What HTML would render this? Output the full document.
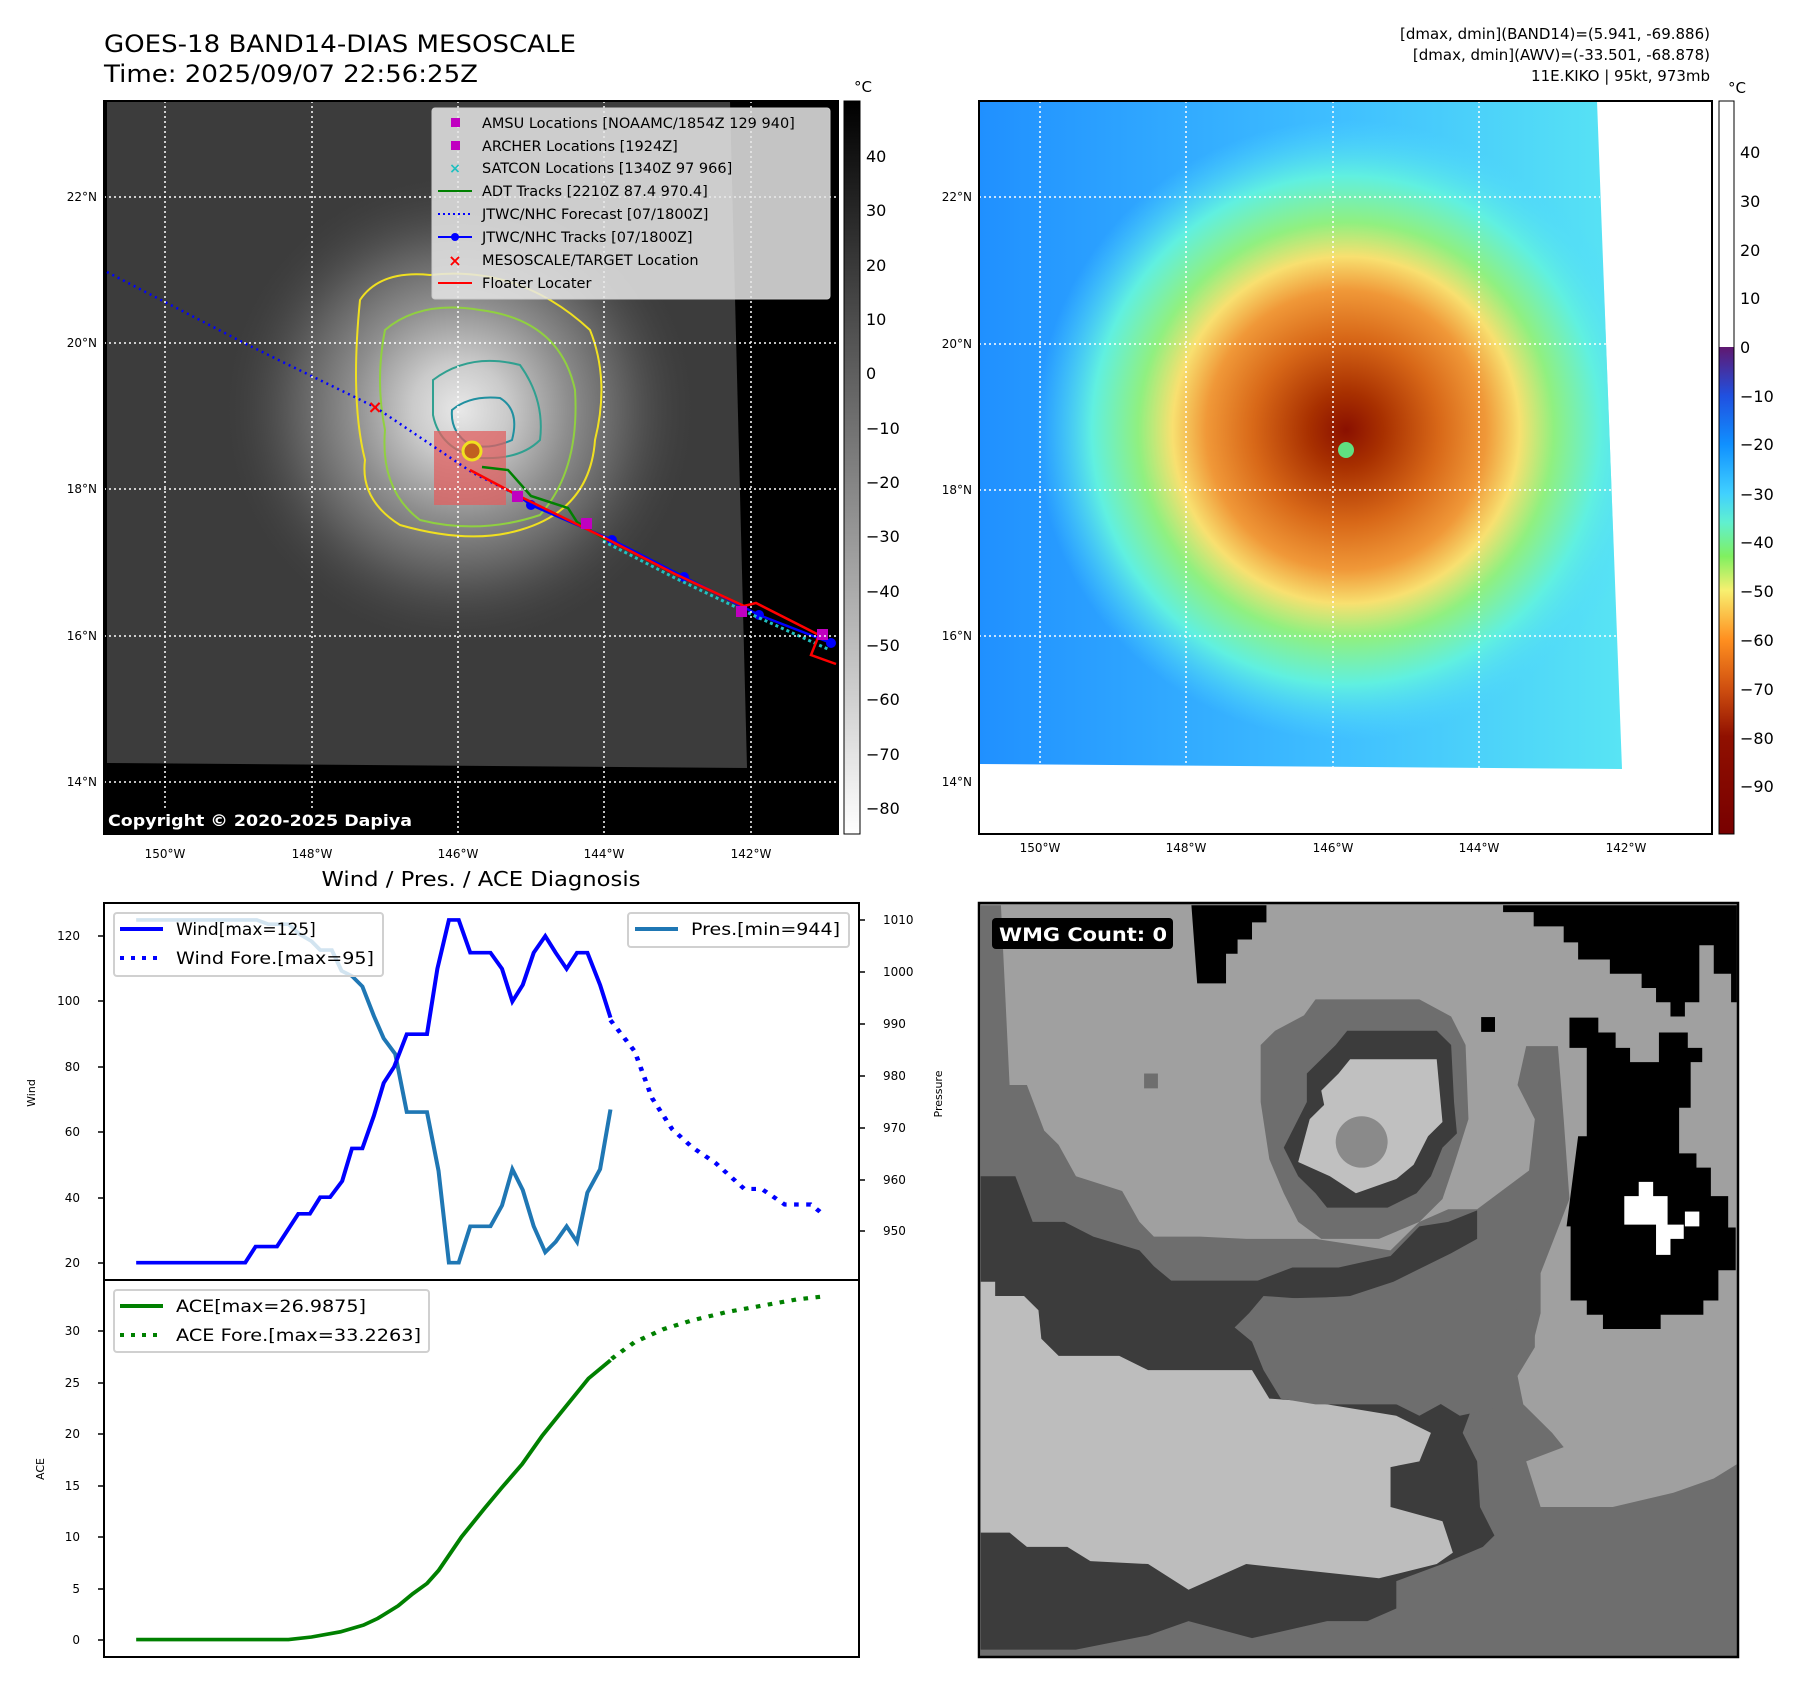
<!DOCTYPE html>
<html><head><meta charset="utf-8"><style>
html,body{margin:0;padding:0;background:#fff;}
svg{display:block;font-family:"DejaVu Sans","Liberation Sans",sans-serif;}
</style></head><body>
<svg width="1797" height="1690" viewBox="0 0 1797 1690" xmlns="http://www.w3.org/2000/svg">
<defs>
<radialGradient id="lstorm" cx="460" cy="410" r="240" gradientUnits="userSpaceOnUse">
<stop offset="0" stop-color="#e8e8e8"/><stop offset="0.2" stop-color="#cacaca"/><stop offset="0.45" stop-color="#8e8e8e"/><stop offset="0.72" stop-color="#585858"/><stop offset="1" stop-color="#3c3c3c" stop-opacity="0"/>
</radialGradient>
<radialGradient id="rstorm" cx="1346" cy="430" r="310" gradientUnits="userSpaceOnUse">
<stop offset="0" stop-color="#8a1000"/><stop offset="0.12" stop-color="#a83000"/><stop offset="0.3" stop-color="#d86818"/><stop offset="0.45" stop-color="#f09838"/><stop offset="0.56" stop-color="#f8e070"/><stop offset="0.67" stop-color="#90f080"/><stop offset="0.82" stop-color="#60f0e0"/><stop offset="1" stop-color="#50d8ff" stop-opacity="0"/>
</radialGradient>
<linearGradient id="rbase" x1="0" y1="0" x2="1" y2="0">
<stop offset="0" stop-color="#2090ff"/><stop offset="0.5" stop-color="#40c0ff"/><stop offset="1" stop-color="#60f0f0"/>
</linearGradient>
<linearGradient id="lcb" x1="0" y1="0" x2="0" y2="1"><stop offset="0" stop-color="#000"/><stop offset="1" stop-color="#fff"/></linearGradient>
<linearGradient id="rcb" gradientUnits="userSpaceOnUse" x1="0" y1="347" x2="0" y2="834">
<stop offset="0" stop-color="#601870"/><stop offset="0.1" stop-color="#2050e0"/><stop offset="0.2" stop-color="#1090ff"/><stop offset="0.3" stop-color="#40d0ff"/><stop offset="0.36" stop-color="#60f0d0"/><stop offset="0.43" stop-color="#80f060"/><stop offset="0.5" stop-color="#f8f070"/><stop offset="0.6" stop-color="#ff9020"/><stop offset="0.7" stop-color="#d05010"/><stop offset="0.8" stop-color="#901000"/><stop offset="1" stop-color="#780000"/>
</linearGradient>
<clipPath id="lclip"><polygon points="107,101 730,101 747,768 107,763"/></clipPath>
<clipPath id="rclip"><polygon points="979,101 1597,101 1622,769 979,764"/></clipPath>
</defs>

<text x="104" y="52" font-size="24" textLength="472" lengthAdjust="spacingAndGlyphs">GOES-18 BAND14-DIAS MESOSCALE</text>
<text x="104" y="82" font-size="24" textLength="374" lengthAdjust="spacingAndGlyphs">Time: 2025/09/07 22:56:25Z</text>
<g font-size="15" text-anchor="end">
<text x="1710" y="39">[dmax, dmin](BAND14)=(5.941, -69.886)</text>
<text x="1710" y="60">[dmax, dmin](AWV)=(-33.501, -68.878)</text>
<text x="1710" y="81">11E.KIKO | 95kt, 973mb</text>
</g>

<rect x="104" y="101" width="734" height="733" fill="#000"/>
<g clip-path="url(#lclip)">
<rect x="104" y="101" width="734" height="733" fill="#3c3c3c"/>
<rect x="104" y="101" width="734" height="733" fill="url(#lstorm)"/>
</g>
<g fill="none" stroke-width="2">
<path d="M360,300 Q380,270 430,275 Q520,265 590,330 Q610,380 595,440 Q590,510 520,530 Q470,545 400,525 Q360,500 365,460 Q350,400 360,300Z" stroke="#f0e020"/>
<path d="M385,330 Q420,300 480,310 Q560,320 575,390 Q580,470 540,515 Q480,535 420,520 Q380,490 385,430 Q375,380 385,330Z" stroke="#90d040"/>
<path d="M433,380 Q470,352 520,365 Q545,400 540,440 Q520,460 480,458 Q440,450 433,415Z" stroke="#30a090"/>
<path d="M452,410 Q470,395 500,398 Q520,410 512,440 Q490,450 470,445 Q450,432 452,410Z" stroke="#2090a0"/>
</g>
<rect x="434" y="431" width="72" height="74" fill="#e06060" fill-opacity="0.75"/>
<circle cx="472" cy="451" r="9" fill="#c06020" stroke="#f0e020" stroke-width="3"/>
<polyline points="107,272 248,345 375,407 473,473 519,496" fill="none" stroke="#0000ff" stroke-width="2.5" stroke-dasharray="2,4"/>
<polyline points="482,467 508,470 531,496 568,508 577,522 606,540" fill="none" stroke="#008000" stroke-width="2.5"/>
<polyline points="519,496 531,505 612,540 684,577 759,615 831,643" fill="none" stroke="#0000ff" stroke-width="2.5"/>
<g fill="#0000ff"><circle cx="531" cy="505" r="5"/><circle cx="612" cy="540" r="5"/><circle cx="684" cy="577" r="5"/><circle cx="759" cy="615" r="5"/><circle cx="831" cy="643" r="5"/></g>
<polyline points="603,541 675,578 744,611 830,650" fill="none" stroke="#20c0c0" stroke-width="3" stroke-dasharray="3,3"/>
<polyline points="470,470 519,496 603,537 675,574 744,606 756,603 819,635 811,655 836,664" fill="none" stroke="#ff0000" stroke-width="2.5"/>
<g fill="#c000c0"><rect x="512" y="491" width="11" height="11"/><rect x="581" y="518" width="11" height="11"/><rect x="736" y="606" width="11" height="11"/><rect x="817" y="629" width="11" height="11"/></g>
<text x="375" y="413" font-size="18" fill="#ff0000" text-anchor="middle" font-weight="bold">×</text>
<g stroke="#fff" stroke-width="1.5" stroke-dasharray="2,3">
<line x1="165" y1="101" x2="165" y2="834"/><line x1="312" y1="101" x2="312" y2="834"/><line x1="458" y1="101" x2="458" y2="834"/><line x1="604" y1="101" x2="604" y2="834"/><line x1="751" y1="101" x2="751" y2="834"/>
<line x1="104" y1="197" x2="838" y2="197"/><line x1="104" y1="343" x2="838" y2="343"/><line x1="104" y1="489" x2="838" y2="489"/><line x1="104" y1="636" x2="838" y2="636"/><line x1="104" y1="782" x2="838" y2="782"/>
</g>
<rect x="432" y="108" width="398" height="191" rx="3" fill="#e6e6e6" fill-opacity="0.85" stroke="#ccc"/>
<g font-size="14.5">
<rect x="451" y="118" width="9" height="9" fill="#c000c0"/><text x="482" y="128">AMSU Locations [NOAAMC/1854Z 129 940]</text>
<rect x="451" y="141" width="9" height="9" fill="#c000c0"/><text x="482" y="151">ARCHER Locations [1924Z]</text>
<text x="455" y="173" fill="#20c0c0" text-anchor="middle" font-size="14" font-weight="bold">×</text><text x="482" y="173">SATCON Locations [1340Z 97 966]</text>
<line x1="438" y1="191" x2="472" y2="191" stroke="#008000" stroke-width="2"/><text x="482" y="196">ADT Tracks [2210Z 87.4 970.4]</text>
<line x1="438" y1="214" x2="472" y2="214" stroke="#0000ff" stroke-width="2" stroke-dasharray="2,3"/><text x="482" y="219">JTWC/NHC Forecast [07/1800Z]</text>
<line x1="438" y1="237" x2="472" y2="237" stroke="#0000ff" stroke-width="2"/><circle cx="455" cy="237" r="4" fill="#0000ff"/><text x="482" y="242">JTWC/NHC Tracks [07/1800Z]</text>
<text x="455" y="266" fill="#ff0000" text-anchor="middle" font-size="16" font-weight="bold">×</text><text x="482" y="265">MESOSCALE/TARGET Location</text>
<line x1="438" y1="283" x2="472" y2="283" stroke="#ff0000" stroke-width="2"/><text x="482" y="288">Floater Locater</text>
</g>
<rect x="103" y="808" width="312" height="26" rx="3" fill="#000"/>
<text x="108" y="826" font-size="16" font-weight="bold" fill="#fff" textLength="304" lengthAdjust="spacingAndGlyphs">Copyright © 2020-2025 Dapiya</text>
<rect x="104" y="101" width="734" height="733" fill="none" stroke="#000" stroke-width="2"/>
<g font-size="12" text-anchor="end">
<text x="97" y="201">22°N</text><text x="97" y="347">20°N</text><text x="97" y="493">18°N</text><text x="97" y="640">16°N</text><text x="97" y="786">14°N</text>
</g>
<g font-size="12" text-anchor="middle">
<text x="165" y="858">150°W</text><text x="312" y="858">148°W</text><text x="458" y="858">146°W</text><text x="604" y="858">144°W</text><text x="751" y="858">142°W</text>
</g>
<rect x="844" y="101" width="16" height="733" fill="url(#lcb)" stroke="#000" stroke-width="1"/>
<text x="854" y="92" font-size="15">°C</text>
<g font-size="16">
<text x="866" y="162">40</text><text x="866" y="216">30</text><text x="866" y="271">20</text><text x="866" y="325">10</text><text x="866" y="379">0</text>
<text x="866" y="434">−10</text><text x="866" y="488">−20</text><text x="866" y="542">−30</text><text x="866" y="597">−40</text><text x="866" y="651">−50</text><text x="866" y="705">−60</text><text x="866" y="760">−70</text><text x="866" y="814">−80</text>
</g>

<rect x="979" y="101" width="733" height="733" fill="#fff"/>
<g clip-path="url(#rclip)">
<rect x="979" y="101" width="733" height="733" fill="url(#rbase)"/>
<rect x="979" y="101" width="733" height="733" fill="url(#rstorm)"/>
<circle cx="1346" cy="450" r="8" fill="#60e080"/>
</g>
<g stroke="#fff" stroke-width="1.5" stroke-dasharray="2,3">
<line x1="1040" y1="101" x2="1040" y2="764"/><line x1="1186" y1="101" x2="1186" y2="766"/><line x1="1333" y1="101" x2="1333" y2="767"/><line x1="1479" y1="101" x2="1479" y2="768"/>
<line x1="979" y1="197" x2="1600" y2="197"/><line x1="979" y1="344" x2="1606" y2="344"/><line x1="979" y1="490" x2="1611" y2="490"/><line x1="979" y1="636" x2="1617" y2="636"/>
</g>
<rect x="979" y="101" width="733" height="733" fill="none" stroke="#000" stroke-width="2"/>
<g font-size="12" text-anchor="end">
<text x="972" y="201">22°N</text><text x="972" y="348">20°N</text><text x="972" y="494">18°N</text><text x="972" y="640">16°N</text><text x="972" y="786">14°N</text>
</g>
<g font-size="12" text-anchor="middle">
<text x="1040" y="852">150°W</text><text x="1186" y="852">148°W</text><text x="1333" y="852">146°W</text><text x="1479" y="852">144°W</text><text x="1626" y="852">142°W</text>
</g>
<rect x="1719" y="101" width="15" height="246" fill="#fff"/>
<rect x="1719" y="347" width="15" height="487" fill="url(#rcb)"/>
<rect x="1719" y="101" width="15" height="733" fill="none" stroke="#000" stroke-width="1"/>
<text x="1728" y="93" font-size="15">°C</text>
<g font-size="16">
<text x="1740" y="158">40</text><text x="1740" y="207">30</text><text x="1740" y="256">20</text><text x="1740" y="304">10</text><text x="1740" y="353">0</text>
<text x="1740" y="402">−10</text><text x="1740" y="450">−20</text><text x="1740" y="500">−30</text><text x="1740" y="548">−40</text><text x="1740" y="597">−50</text><text x="1740" y="646">−60</text><text x="1740" y="695">−70</text><text x="1740" y="744">−80</text><text x="1740" y="792">−90</text>
</g>

<text x="481" y="886" font-size="20" text-anchor="middle" textLength="319" lengthAdjust="spacingAndGlyphs">Wind / Pres. / ACE Diagnosis</text>
<g transform="translate(0,880) scale(0.5770,0.5192)">
<polyline fill="none" stroke="#1f77b4" stroke-width="7" points="236,77 445,77 465,85 500,85 520,105 540,118 555,135 575,135 592,175 610,185 628,205 648,262 665,305 685,335 705,447 740,447 760,560 778,737 795,737 815,667 850,667 870,627 888,557 906,597 925,667 945,717 963,697 982,667 1000,697 1018,602 1040,557 1058,442"/>
<polyline fill="none" stroke="#0000ff" stroke-width="7" points="236,737 425,737 443,706 480,706 517,643 537,643 555,611 572,611 593,580 610,517 628,517 648,454 665,391 683,360 705,297 740,297 758,171 778,77 795,77 815,140 850,140 870,171 888,234 906,202 925,140 945,108 963,140 982,171 1000,140 1018,140 1040,202 1058,265"/>
<polyline fill="none" stroke="#0000ff" stroke-width="8" stroke-dasharray="8,13" points="1058,270 1100,330 1130,420 1165,480 1200,515 1240,545 1290,595 1320,595 1360,625 1405,625 1428,645"/>
<polyline fill="none" stroke="#008000" stroke-width="7" points="236,1463 500,1463 540,1458 590,1448 630,1435 655,1422 690,1398 715,1375 740,1355 760,1330 800,1265 840,1210 870,1170 905,1125 940,1070 980,1015 1020,960 1058,925"/>
<polyline fill="none" stroke="#008000" stroke-width="8" stroke-dasharray="8,13" points="1060,922 1100,890 1150,865 1200,848 1260,832 1320,820 1380,808 1428,802"/>
</g>
<rect x="104" y="903" width="755" height="377" fill="none" stroke="#000" stroke-width="2"/>
<rect x="104" y="1280" width="755" height="377" fill="none" stroke="#000" stroke-width="2"/>
<g stroke="#000" stroke-width="1.5">
<line x1="98" y1="936" x2="104" y2="936"/><line x1="98" y1="1001" x2="104" y2="1001"/><line x1="98" y1="1067" x2="104" y2="1067"/><line x1="98" y1="1132" x2="104" y2="1132"/><line x1="98" y1="1198" x2="104" y2="1198"/><line x1="98" y1="1263" x2="104" y2="1263"/>
<line x1="859" y1="920" x2="865" y2="920"/><line x1="859" y1="972" x2="865" y2="972"/><line x1="859" y1="1024" x2="865" y2="1024"/><line x1="859" y1="1076" x2="865" y2="1076"/><line x1="859" y1="1128" x2="865" y2="1128"/><line x1="859" y1="1180" x2="865" y2="1180"/><line x1="859" y1="1231" x2="865" y2="1231"/>
<line x1="98" y1="1331" x2="104" y2="1331"/><line x1="98" y1="1383" x2="104" y2="1383"/><line x1="98" y1="1434" x2="104" y2="1434"/><line x1="98" y1="1486" x2="104" y2="1486"/><line x1="98" y1="1537" x2="104" y2="1537"/><line x1="98" y1="1589" x2="104" y2="1589"/><line x1="98" y1="1640" x2="104" y2="1640"/>
</g>
<g font-size="12" text-anchor="end">
<text x="80" y="940">120</text><text x="80" y="1005">100</text><text x="80" y="1071">80</text><text x="80" y="1136">60</text><text x="80" y="1202">40</text><text x="80" y="1267">20</text>
<text x="80" y="1335">30</text><text x="80" y="1387">25</text><text x="80" y="1438">20</text><text x="80" y="1490">15</text><text x="80" y="1541">10</text><text x="80" y="1593">5</text><text x="80" y="1644">0</text>
</g>
<g font-size="12">
<text x="883" y="924">1010</text><text x="883" y="976">1000</text><text x="883" y="1028">990</text><text x="883" y="1080">980</text><text x="883" y="1132">970</text><text x="883" y="1184">960</text><text x="883" y="1235">950</text>
</g>
<text transform="translate(35,1093) rotate(-90)" font-size="11" text-anchor="middle">Wind</text>
<text transform="translate(942,1094) rotate(-90)" font-size="11" text-anchor="middle">Pressure</text>
<text transform="translate(44,1469) rotate(-90)" font-size="11" text-anchor="middle">ACE</text>
<rect x="114" y="913" width="269" height="63" rx="3" fill="#fff" fill-opacity="0.8" stroke="#d0d0d0" stroke-width="2"/>
<line x1="120" y1="929" x2="163" y2="929" stroke="#0000ff" stroke-width="4"/>
<line x1="120" y1="958" x2="163" y2="958" stroke="#0000ff" stroke-width="4" stroke-dasharray="4,7"/>
<text x="176" y="935" font-size="17">Wind[max=125]</text>
<text x="176" y="964" font-size="17" textLength="198" lengthAdjust="spacingAndGlyphs">Wind Fore.[max=95]</text>
<rect x="628" y="913" width="221" height="34" rx="3" fill="#fff" fill-opacity="0.8" stroke="#d0d0d0" stroke-width="2"/>
<line x1="635" y1="929" x2="678" y2="929" stroke="#1f77b4" stroke-width="4"/>
<text x="691" y="935" font-size="17" textLength="149" lengthAdjust="spacingAndGlyphs">Pres.[min=944]</text>
<rect x="114" y="1290" width="315" height="62" rx="3" fill="#fff" fill-opacity="0.8" stroke="#d0d0d0" stroke-width="2"/>
<line x1="120" y1="1306" x2="163" y2="1306" stroke="#008000" stroke-width="4"/>
<line x1="120" y1="1335" x2="163" y2="1335" stroke="#008000" stroke-width="4" stroke-dasharray="4,7"/>
<text x="176" y="1312" font-size="17" textLength="190" lengthAdjust="spacingAndGlyphs">ACE[max=26.9875]</text>
<text x="176" y="1341" font-size="17" textLength="245" lengthAdjust="spacingAndGlyphs">ACE Fore.[max=33.2263]</text>

<svg x="979" y="903" width="759" height="754" viewBox="137 181 1315 1322" preserveAspectRatio="none">
<rect x="137" y="181" width="1315" height="1322" fill="#a0a0a0"/>
<polygon fill="#6e6e6e" points="140,185 175,185 190,500 220,500 250,580 275,605 305,660 385,686 415,740 440,766 520,766 600,770 720,770 850,790 900,740 950,718 1000,718 1090,650 1100,560 1070,500 1085,432 1140,432 1150,560 1160,700 1110,830 1110,900 1095,960 1070,1010 1080,1060 1130,1110 1150,1135 1085,1160 1110,1240 1235,1240 1340,1215 1410,1190 1450,1165 1450,1503 140,1503"/>
<polygon fill="#3c3c3c" points="140,660 200,660 230,740 285,740 335,766 415,790 440,818 470,843 550,843 620,843 680,820 760,820 850,800 900,748 950,740 1000,720 1000,770 955,795 855,845 780,870 700,875 630,870 605,900 580,925 610,950 630,1000 660,1050 710,1055 850,1055 900,1080 945,1055 995,1055 975,1110 1000,1160 1005,1240 1030,1290 1010,1310 940,1340 860,1370 860,1418 810,1440 740,1440 610,1470 500,1440 430,1465 305,1490 140,1490"/>
<polygon fill="#bdbdbd" points="140,845 165,845 165,870 215,870 240,895 245,945 275,975 380,975 430,1000 610,1000 640,1050 710,1055 860,1080 920,1110 900,1160 850,1170 850,1240 940,1265 958,1320 930,1340 830,1365 600,1340 500,1385 430,1340 330,1335 290,1310 220,1310 190,1285 140,1285"/>
<polygon fill="#6e6e6e" points="580,925 640,875 830,870 1000,880 1100,900 1100,960 1070,1010 1060,1060 970,1080 930,1055 870,1060 720,1060 660,1050 610,950"/>
<polygon fill="#6e6e6e" points="625,430 650,405 700,378 720,350 900,350 955,380 980,430 985,560 960,640 940,700 900,740 830,770 730,770 690,740 665,690 640,630 625,530"/>
<polygon fill="#3c3c3c" points="705,480 730,455 755,430 775,405 930,405 955,430 960,530 965,585 940,610 920,660 895,690 845,715 740,715 720,690 690,660 665,610 690,560 705,530"/>
<polygon fill="#c0c0c0" points="730,510 760,480 780,455 930,455 935,510 940,565 915,590 890,640 860,665 790,690 745,660 690,635 710,560 735,535"/>
<ellipse cx="800" cy="600" rx="45" ry="45" fill="#8a8a8a"/>
<polygon fill="#000" points="505,185 635,185 635,215 610,215 610,245 585,245 585,270 565,270 565,322 515,322"/>
<polygon fill="#000" points="1045,185 1450,185 1450,355 1440,355 1440,305 1410,305 1410,255 1385,255 1385,355 1360,355 1360,380 1335,380 1335,355 1310,355 1310,330 1285,330 1285,305 1230,305 1230,280 1175,280 1175,250 1150,250 1150,222 1098,222 1098,197 1045,197"/>
<polygon fill="#000" points="1160,382 1210,382 1210,408 1240,408 1240,435 1265,435 1265,460 1315,460 1315,408 1365,408 1365,435 1390,435 1390,460 1370,460 1370,540 1350,540 1350,620 1380,620 1380,645 1405,645 1405,695 1435,695 1435,750 1448,750 1448,825 1418,825 1418,878 1392,878 1392,903 1318,903 1318,928 1218,928 1218,903 1190,903 1190,878 1162,878 1162,748 1155,748 1175,590 1190,590 1190,435 1160,435"/>
<polygon fill="#fff" points="1280,670 1305,670 1305,695 1330,695 1330,745 1358,745 1358,770 1335,770 1335,798 1310,798 1310,745 1255,745 1255,695 1280,695"/>
<rect x="1360" y="722" width="25" height="26" fill="#fff"/>
<rect x="1007" y="381" width="24" height="26" fill="#000"/>
<rect x="423" y="480" width="24" height="26" fill="#6e6e6e"/>
</svg>
<rect x="979" y="903" width="759" height="754" fill="none" stroke="#000" stroke-width="2.5"/>
<rect x="992" y="918" width="181" height="31" rx="4" fill="#000"/>
<text x="999" y="941" font-size="19" font-weight="bold" fill="#fff" textLength="168" lengthAdjust="spacingAndGlyphs">WMG Count: 0</text>
</svg>
</body></html>
